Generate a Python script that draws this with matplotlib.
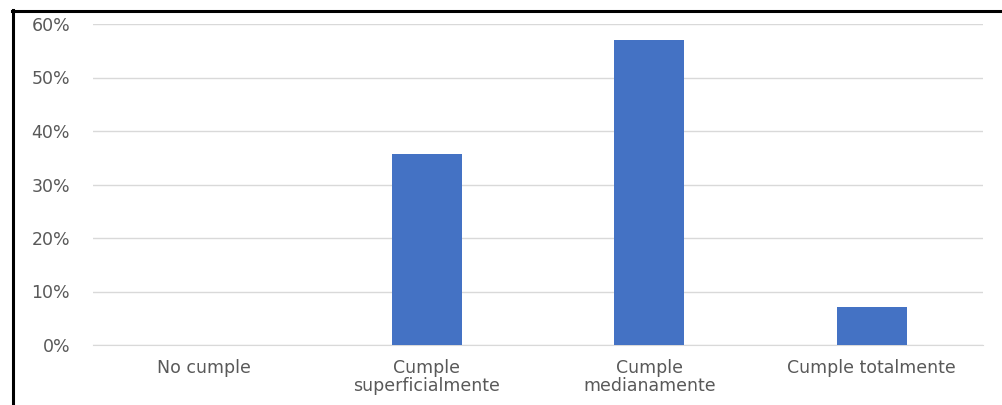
import matplotlib
matplotlib.use("Agg")
import matplotlib.pyplot as plt
from matplotlib.lines import Line2D
from matplotlib.ticker import FuncFormatter

categories = ["No cumple", "Cumple\nsuperficialmente", "Cumple\nmedianamente", "Cumple totalmente"]
values = [0.0, 35.7, 57.1, 7.1]
yticks = [0, 10, 20, 30, 40, 50, 60]

plt.rcParams['font.family'] = ['DejaVu Sans']

fig = plt.figure(figsize=(10.02, 4.05), dpi=100)
ax = fig.add_axes([93/1002, 1-345/405, (983-93)/1002, (345-24)/405])

x = list(range(len(categories)))
ax.bar(x, values, width=0.315, color="#4472C4", zorder=3)
ax.set_xlim(-0.5, len(categories)-0.5)
ax.set_ylim(0, 60)
ax.set_yticks(yticks)
ax.yaxis.set_major_formatter(FuncFormatter(lambda v, p: f"{int(v)}%"))
ax.set_xticks(x)
ax.set_xticklabels(categories, linespacing=1.0)
ax.grid(axis="y", color="#d9d9d9", linewidth=1, zorder=0)
for s in ["top", "right", "left"]:
    ax.spines[s].set_visible(False)
ax.spines["bottom"].set_color("#d9d9d9")
ax.tick_params(axis="both", length=0, colors="#595959", labelsize=12.5)
ax.tick_params(axis="y", pad=16.5)
ax.tick_params(axis="x", pad=10)

fig.add_artist(Line2D([13/1002, 13/1002], [0, 1-10/405], transform=fig.transFigure, color="black", linewidth=2.2))
fig.add_artist(Line2D([12/1002, 1], [1-11/405, 1-11/405], transform=fig.transFigure, color="black", linewidth=2.2))

fig.savefig("out.png", dpi=100)
